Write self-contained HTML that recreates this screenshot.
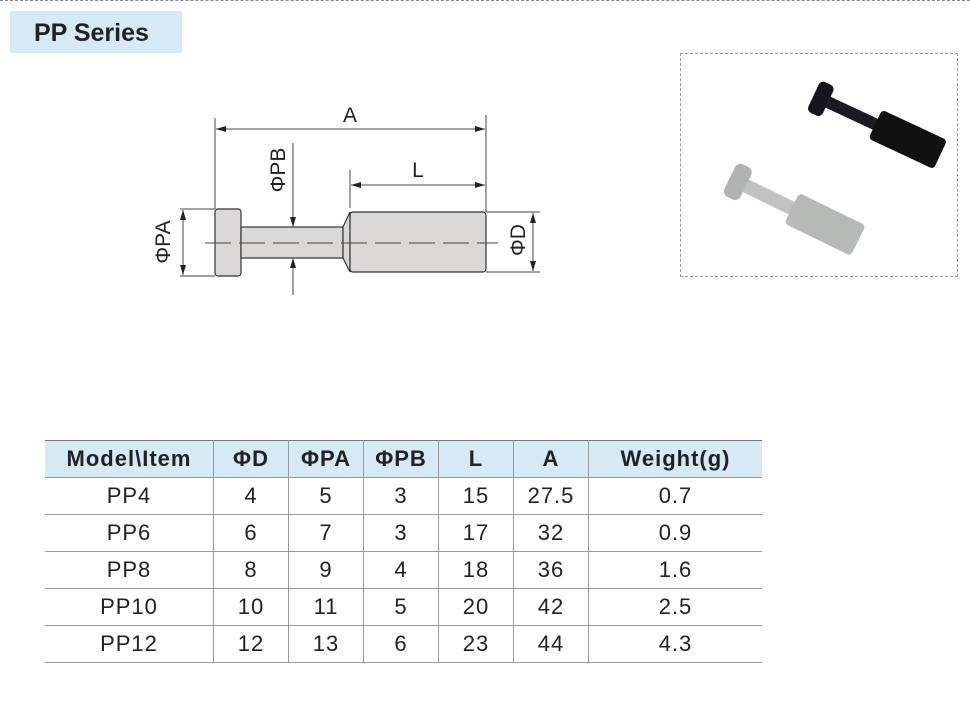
<!DOCTYPE html>
<html><head><style>
body{margin:0;width:970px;height:724px;background:#fff;position:relative;font-family:"Liberation Sans",Arial,sans-serif;overflow:hidden}
.top{position:absolute;left:0;top:0;width:970px;border-top:1px dashed #888}
.title{position:absolute;left:10px;top:11px;width:172px;height:42px;background:#d6eaf6;font-weight:bold;font-size:25px;color:#222;line-height:44px;padding-left:24px;box-sizing:border-box}
.photo{position:absolute;left:680px;top:53px;width:278px;height:224px;border:1px dashed #999;box-sizing:border-box}
table{position:absolute;left:45px;top:440px;border-collapse:collapse;font-size:22px;color:#222}
td{border:1px solid #999;text-align:center;height:36px;padding:0;letter-spacing:1px}
tr:first-child td{background:#d6eaf6;font-weight:bold;border-top:1px solid #777}
table tr td:first-child{border-left:none}
table tr td:last-child{border-right:none}
</style></head><body>
<div class="top"></div>
<div class="title">PP Series</div>
<svg style="position:absolute;left:0;top:0" width="970" height="724">
<defs><marker id="ar" viewBox="0 0 10 6" refX="10" refY="3" markerWidth="14" markerHeight="6" orient="auto-start-reverse" markerUnits="userSpaceOnUse"><path d="M0,0L10,3L0,6z" fill="#222"/></marker></defs>
<g stroke="#333" stroke-width="1.2" fill="#d9d8d7">
<rect x="215" y="209" width="26" height="67" rx="3"/>
<rect x="241" y="227" width="102" height="31"/>
<path d="M343,227L350,212L350,272L343,258z"/>
<rect x="350" y="212" width="136" height="60" rx="3"/>
</g>
<g stroke="#444" stroke-width="1" fill="none">
<line x1="205" y1="243" x2="498" y2="243" stroke-dasharray="26,8"/>
<line x1="215" y1="118" x2="215" y2="209"/><line x1="486" y1="115" x2="486" y2="212"/>
<line x1="216" y1="129" x2="485" y2="129" marker-start="url(#ar)" marker-end="url(#ar)"/>
<line x1="350" y1="170" x2="350" y2="208"/>
<line x1="351" y1="185" x2="485" y2="185" marker-start="url(#ar)" marker-end="url(#ar)"/>
<line x1="293" y1="143" x2="293" y2="227" marker-end="url(#ar)"/>
<line x1="293" y1="295" x2="293" y2="258" marker-end="url(#ar)"/>
<line x1="180" y1="209" x2="215" y2="209"/><line x1="180" y1="276" x2="215" y2="276"/>
<line x1="183" y1="210" x2="183" y2="275" marker-start="url(#ar)" marker-end="url(#ar)"/>
<line x1="486" y1="212" x2="540" y2="212"/><line x1="486" y1="272" x2="540" y2="272"/>
<line x1="533" y1="213" x2="533" y2="271" marker-start="url(#ar)" marker-end="url(#ar)"/>
</g>
<g font-size="21" fill="#222" font-family="Liberation Sans,Arial,sans-serif" text-anchor="middle">
<text x="350" y="122">A</text>
<text x="418" y="177">L</text>
<text transform="translate(285,170) rotate(-90)">ΦPB</text>
<text transform="translate(170,242) rotate(-90)">ΦPA</text>
<text transform="translate(525,240) rotate(-90)">ΦD</text>
</g>
</svg>
<div class="photo">
<svg width="278" height="224">
<g transform="translate(138,44) rotate(25)">
<rect x="10" y="-6" width="55" height="12" fill="#1a1a22"/>
<rect x="62" y="-16" width="72" height="32" rx="4" fill="#111"/>
<rect x="-6" y="-17" width="16" height="34" rx="5" fill="#151520"/>
</g>
<g transform="translate(55,127) rotate(26)">
<rect x="10" y="-7" width="55" height="14" fill="#c0c3bf"/>
<rect x="62" y="-17" width="74" height="34" rx="4" fill="#b6bab6"/>
<rect x="-7" y="-18" width="18" height="36" rx="6" fill="#b0b4b0"/>
</g>
</svg>
</div>
<table>
<tr><td style="width:168px">Model\Item</td><td style="width:74px">ΦD</td><td style="width:74px">ΦPA</td><td style="width:74px">ΦPB</td><td style="width:74px">L</td><td style="width:74px">A</td><td style="width:173px">Weight(g)</td></tr>
<tr><td>PP4</td><td>4</td><td>5</td><td>3</td><td>15</td><td>27.5</td><td>0.7</td></tr>
<tr><td>PP6</td><td>6</td><td>7</td><td>3</td><td>17</td><td>32</td><td>0.9</td></tr>
<tr><td>PP8</td><td>8</td><td>9</td><td>4</td><td>18</td><td>36</td><td>1.6</td></tr>
<tr><td>PP10</td><td>10</td><td>11</td><td>5</td><td>20</td><td>42</td><td>2.5</td></tr>
<tr><td>PP12</td><td>12</td><td>13</td><td>6</td><td>23</td><td>44</td><td>4.3</td></tr>
</table>
</body></html>
